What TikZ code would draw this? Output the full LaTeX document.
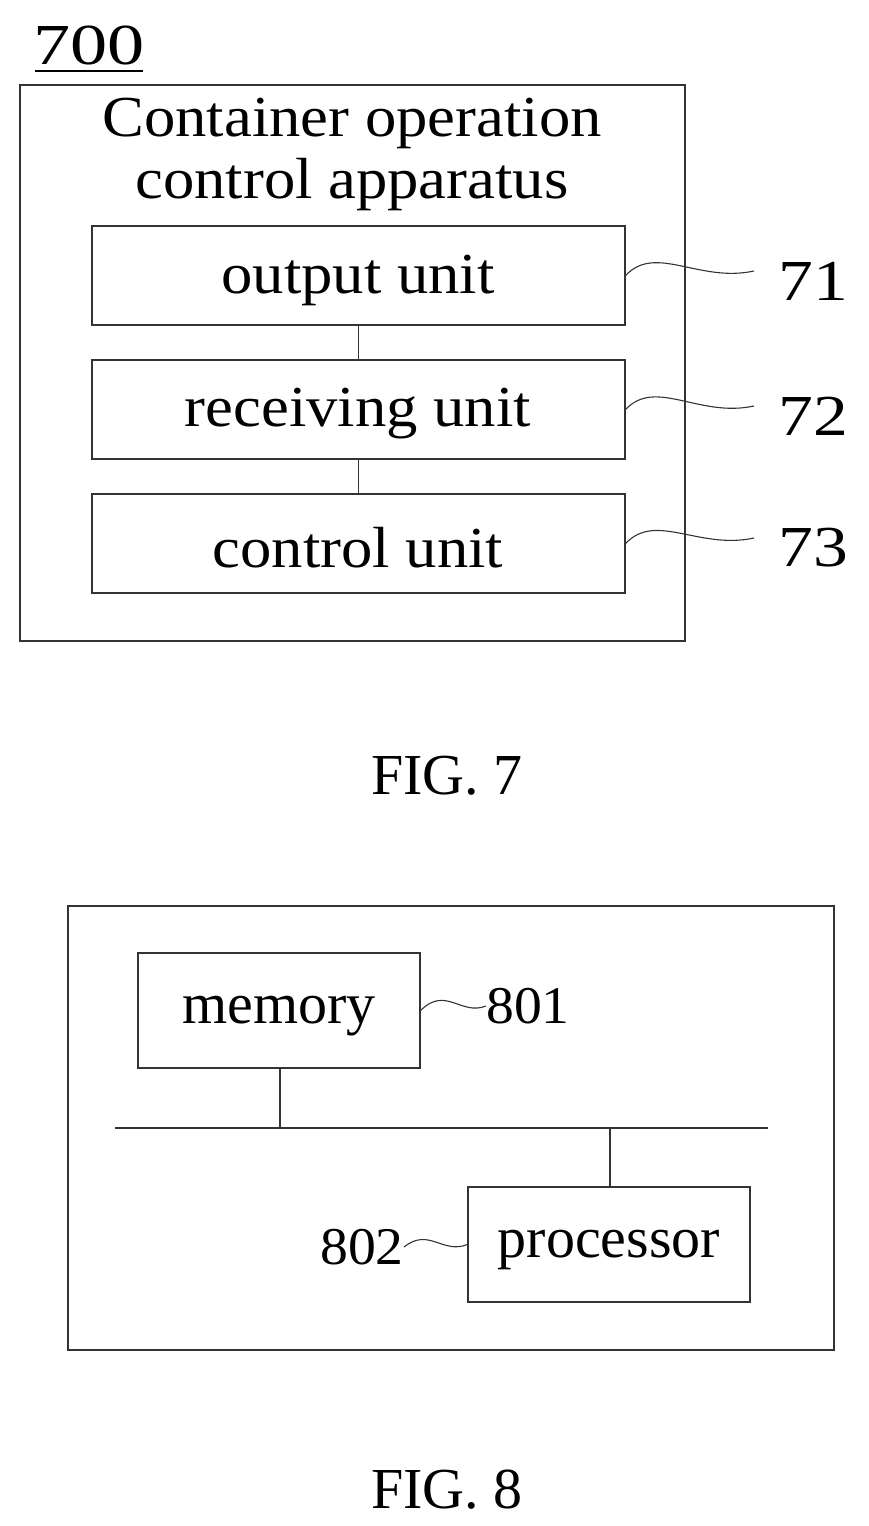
\documentclass[tikz,border=0pt]{standalone}
\usepackage{fontspec}
\setmainfont{Liberation Serif}
\begin{document}
\begin{tikzpicture}[x=1pt,y=-1pt,
  box/.style={draw=black!80,line width=1.2pt},
  ln/.style={draw=black!80,line width=1.2pt},
  big/.style={font=\fontsize{58}{62}\selectfont},
  mid/.style={font=\fontsize{53}{58}\selectfont},
  wav/.style={draw=black!80,line width=1.1pt}]
\useasboundingbox (0,0) rectangle (869,1526);
% FIG 7
\node[big,inner sep=0,xscale=1.28] (n700) at (89,45) {700};
\draw[line width=1.5pt] (35,71) -- (143,71);
\draw[box] (20,85) rectangle (685,641);
\node[big,align=center,inner sep=0,xscale=1.08] (title) at (352,154) {Container operation\\control apparatus};
\node[box,minimum width=533pt,minimum height=99pt] (u1) at (358.5,275.5) {};
\node[box,minimum width=533pt,minimum height=99pt] (u2) at (358.5,409.5) {};
\node[box,minimum width=533pt,minimum height=99pt] (u3) at (358.5,543.5) {};
\node[big,inner sep=0,xscale=1.08] (t1) at (358,280) {output unit};
\node[big,inner sep=0,xscale=1.08] (t2) at (358,414) {receiving unit};
\node[big,inner sep=0,xscale=1.08] (t3) at (358,548) {control unit};
\draw[ln] (u1.south) -- (u2.north);
\draw[ln] (u2.south) -- (u3.north);
\node[big,inner sep=0,xscale=1.2] (l1) at (813,281) {71};
\node[big,inner sep=0,xscale=1.2] (l2) at (813,416) {72};
\node[big,inner sep=0,xscale=1.2] (l3) at (813,548) {73};
\foreach \u/\l in {u1/l1,u2/l2,u3/l3}{
  \draw[wav] (\u.east) .. controls +(30,-32) and +(-55,12) .. ([xshift=-24pt,yshift=10pt]\l.west);
}
\node[big,inner sep=0] (f7) at (447,776) {FIG. 7};
% FIG 8
\draw[box] (68,906) rectangle (834,1350);
\node[box,minimum width=282pt,minimum height=115pt] (mem) at (279,1010.5) {};
\node[box,minimum width=282pt,minimum height=115pt] (proc) at (609,1244.5) {};
\node[big,inner sep=0] (tm) at (279,1016) {memory};
\node[big,inner sep=0] (tp) at (609,1250) {processor};
\coordinate (bl) at (115,1128);
\coordinate (br) at (768,1128);
\draw[ln] (bl) -- (br);
\coordinate (bm) at (280,1128);
\coordinate (bp) at (610,1128);
\draw[ln] (mem.south -| bm) -- (bm);
\draw[ln] (bp) -- (proc.north -| bp);
\node[mid,inner sep=0,anchor=west,xscale=1.05] (l801) at (486,1006) {801};
\node[mid,inner sep=0,anchor=east,xscale=1.05] (l802) at (404,1247) {802};
\draw[wav] (mem.east) .. controls +(25,-25) and +(-25,10) .. (l801.west);
\draw[wav] (l802.east) .. controls +(25,-20) and +(-25,10) .. (proc.west);
\node[big,inner sep=0] (f8) at (447,1490) {FIG. 8};
\end{tikzpicture}
\end{document}
